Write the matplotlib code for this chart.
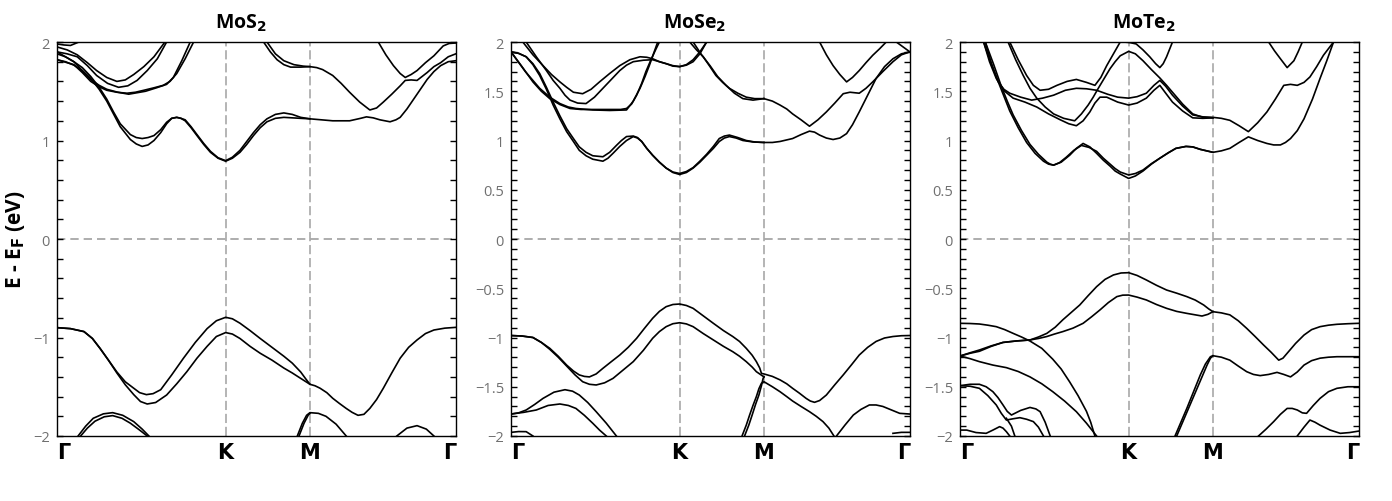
"""MoX2 単層のバンド構造 3 パネル図を作成する。"""

import matplotlib

matplotlib.use("Agg")
import matplotlib.pyplot as plt
from matplotlib.ticker import FuncFormatter, MultipleLocator

plt.rcParams["font.family"] = ["Open Sans", "DejaVu Sans"]
plt.rcParams["mathtext.fontset"] = "dejavusans"

# 高対称点の位置 (Γ-K : K-M : M-Γ = 2 : 1 : √3)
K_TICKS = [0.0, 2.0, 3.0, 4.732]
K_LABELS = ["Γ", "K", "M", "Γ"]

TITLES = ["MoS$_\\mathbf{2}$", "MoSe$_\\mathbf{2}$", "MoTe$_\\mathbf{2}$"]
MAJOR_STEPS = [1.0, 0.5, 0.5]
MINOR_STEPS = [0.2, 0.1, 0.1]

# 各バンドは (k, E - E_F [eV]) の列
MOS2_BANDS = [
    [(0, 1.82), (0.10, 1.80), (0.20, 1.765), (0.30, 1.71), (0.40, 1.63), (0.50, 1.52),
     (0.59, 1.40), (0.67, 1.27), (0.75, 1.14), (0.87, 1.01), (0.94, 0.965),
     (1.01, 0.94), (1.08, 0.955), (1.15, 1.00), (1.23, 1.08), (1.30, 1.17), (1.36, 1.225),
     (1.42, 1.235), (1.47, 1.225), (1.52, 1.20), (1.59, 1.13), (1.66, 1.05), (1.74, 0.96),
     (1.82, 0.88), (1.91, 0.82), (2.0, 0.79), (2.08, 0.82), (2.17, 0.88), (2.25, 0.96),
     (2.33, 1.05), (2.41, 1.13), (2.49, 1.19), (2.59, 1.225), (2.69, 1.235), (2.89, 1.225),
     (3.0, 1.22), (3.27, 1.20), (3.47, 1.20), (3.60, 1.225), (3.67, 1.24), (3.75, 1.23),
     (3.83, 1.21), (3.95, 1.19), (4.02, 1.21), (4.07, 1.235), (4.15, 1.32), (4.23, 1.42),
     (4.31, 1.52), (4.39, 1.62), (4.47, 1.70), (4.55, 1.76), (4.64, 1.80), (4.73, 1.81)],
    [(0, 1.88), (0.10, 1.85), (0.20, 1.80), (0.30, 1.74), (0.40, 1.65), (0.50, 1.54),
     (0.59, 1.42), (0.67, 1.29), (0.75, 1.17), (0.87, 1.06), (0.94, 1.03), (1.01, 1.02),
     (1.08, 1.03), (1.15, 1.05), (1.23, 1.11), (1.30, 1.185), (1.36, 1.225), (1.42, 1.235),
     (1.47, 1.225), (1.52, 1.21), (1.59, 1.14), (1.66, 1.06), (1.74, 0.97), (1.82, 0.89),
     (1.91, 0.825), (2.0, 0.795), (2.08, 0.83), (2.17, 0.90), (2.25, 0.99), (2.33, 1.08),
     (2.41, 1.16), (2.49, 1.22), (2.59, 1.265), (2.69, 1.28), (2.79, 1.265), (2.89, 1.235),
     (3.0, 1.22)],
    [(0, 1.82), (0.20, 1.77), (0.30, 1.69), (0.40, 1.60), (0.50, 1.545), (0.59, 1.51),
     (0.71, 1.49), (0.83, 1.48), (0.93, 1.49), (1.03, 1.51), (1.15, 1.535), (1.26, 1.56),
     (1.34, 1.60), (1.42, 1.68), (1.52, 1.83), (1.62, 2.0)],
    [(0, 1.90), (0.20, 1.80), (0.30, 1.71), (0.40, 1.62), (0.50, 1.56), (0.59, 1.52),
     (0.72, 1.49), (0.85, 1.47), (0.95, 1.485), (1.05, 1.50), (1.18, 1.535), (1.30, 1.57),
     (1.38, 1.64), (1.48, 1.81), (1.58, 2.0)],
    [(0, 1.95), (0.12, 1.92), (0.24, 1.87), (0.36, 1.79), (0.47, 1.71), (0.59, 1.64),
     (0.71, 1.60), (0.81, 1.615), (0.91, 1.67), (1.03, 1.75), (1.15, 1.85), (1.28, 2.0)],
    [(0, 1.90), (0.12, 1.88), (0.24, 1.85), (0.36, 1.76), (0.47, 1.66), (0.60, 1.58),
     (0.73, 1.54), (0.84, 1.555), (0.95, 1.61), (1.07, 1.71), (1.19, 1.83), (1.30, 2.0)],
    [(0, 1.98), (0.08, 1.97), (0.16, 1.965), (0.26, 2.0)],
    [(2.45, 2.0), (2.53, 1.90), (2.61, 1.82), (2.69, 1.77), (2.77, 1.745), (2.89, 1.745),
     (3.0, 1.75), (3.08, 1.74), (3.15, 1.72), (3.27, 1.66), (3.37, 1.58), (3.47, 1.49),
     (3.59, 1.39), (3.71, 1.31), (3.79, 1.33), (3.87, 1.39), (3.97, 1.47), (4.07, 1.555),
     (4.13, 1.61), (4.20, 1.615), (4.27, 1.61), (4.39, 1.69), (4.47, 1.75), (4.55, 1.79),
     (4.64, 1.85), (4.73, 1.88)],
    [(2.49, 2.0), (2.59, 1.88), (2.69, 1.81), (2.81, 1.77), (2.92, 1.755), (3.0, 1.75)],
    [(3.81, 2.0), (3.90, 1.87), (3.99, 1.76), (4.07, 1.68), (4.13, 1.64), (4.20, 1.67),
     (4.27, 1.71), (4.37, 1.79), (4.47, 1.86), (4.58, 1.96), (4.65, 1.985), (4.73, 1.99)],
    [(0, -0.90), (0.16, -0.91), (0.32, -0.94), (0.42, -1.01), (0.51, -1.11), (0.61, -1.23),
     (0.71, -1.35), (0.81, -1.45), (0.91, -1.515), (0.98, -1.56), (1.06, -1.58),
     (1.14, -1.57), (1.23, -1.53), (1.36, -1.38), (1.50, -1.21), (1.64, -1.05),
     (1.78, -0.91), (1.89, -0.83), (2.0, -0.795), (2.08, -0.81), (2.17, -0.855),
     (2.29, -0.93), (2.41, -1.01), (2.55, -1.10), (2.69, -1.19), (2.79, -1.26),
     (2.89, -1.35), (2.95, -1.42), (3.0, -1.475), (3.06, -1.49), (3.12, -1.515),
     (3.20, -1.56), (3.27, -1.617), (3.35, -1.67), (3.43, -1.72), (3.50, -1.76),
     (3.57, -1.79), (3.64, -1.78), (3.71, -1.72), (3.79, -1.63), (3.87, -1.515),
     (3.97, -1.36), (4.07, -1.21), (4.17, -1.10), (4.27, -1.025), (4.37, -0.96),
     (4.47, -0.924), (4.60, -0.905), (4.73, -0.897)],
    [(0, -0.90), (0.16, -0.91), (0.32, -0.94), (0.42, -1.01), (0.51, -1.11), (0.61, -1.23),
     (0.71, -1.36), (0.81, -1.48), (0.91, -1.58), (0.99, -1.65), (1.07, -1.675),
     (1.17, -1.66), (1.30, -1.584), (1.42, -1.47), (1.54, -1.347), (1.66, -1.21),
     (1.78, -1.09), (1.89, -0.99), (2.0, -0.95), (2.08, -0.965), (2.17, -1.01),
     (2.29, -1.09), (2.41, -1.16), (2.55, -1.23), (2.69, -1.31), (2.79, -1.36),
     (2.89, -1.415), (3.0, -1.475)],
    [(0.25, -2.0), (0.34, -1.90), (0.43, -1.82), (0.55, -1.775), (0.66, -1.763),
     (0.78, -1.79), (0.91, -1.854), (1.01, -1.93), (1.09, -2.0)],
    [(0.28, -2.0), (0.36, -1.92), (0.45, -1.85), (0.56, -1.805), (0.66, -1.793),
     (0.77, -1.82), (0.87, -1.87), (0.98, -1.94), (1.07, -2.0)],
    [(2.85, -2.0), (2.91, -1.87), (2.96, -1.79), (3.0, -1.763), (3.10, -1.77),
     (3.19, -1.80), (3.31, -1.88), (3.43, -2.0)],
    [(2.87, -2.0), (2.93, -1.87), (2.98, -1.787), (3.0, -1.77)],
    [(4.03, -2.0), (4.15, -1.92), (4.27, -1.895), (4.38, -1.93), (4.47, -2.0)],
]

MOSE2_BANDS = [
    [(0, 1.90), (0.09, 1.885), (0.18, 1.85), (0.26, 1.77), (0.34, 1.66), (0.42, 1.52),
     (0.50, 1.36), (0.58, 1.22), (0.66, 1.09), (0.74, 0.99), (0.81, 0.90), (0.89, 0.845),
     (0.97, 0.81), (1.09, 0.79), (1.15, 0.82), (1.21, 0.87), (1.29, 0.94), (1.37, 1.0),
     (1.45, 1.04), (1.50, 1.025), (1.55, 0.99), (1.61, 0.92), (1.68, 0.85), (1.76, 0.78),
     (1.84, 0.72), (1.92, 0.675), (2.0, 0.655), (2.08, 0.675), (2.16, 0.72), (2.24, 0.78),
     (2.32, 0.85), (2.40, 0.92), (2.47, 0.99), (2.53, 1.025), (2.59, 1.04), (2.67, 1.025),
     (2.75, 1.0), (2.87, 0.985), (3.0, 0.98), (3.10, 0.98), (3.19, 0.99), (3.34, 1.02),
     (3.44, 1.06), (3.54, 1.095), (3.60, 1.085), (3.66, 1.055), (3.74, 1.025),
     (3.82, 1.01), (3.90, 1.025), (3.98, 1.07), (4.05, 1.16), (4.13, 1.29), (4.23, 1.46),
     (4.33, 1.63), (4.43, 1.75), (4.53, 1.83), (4.63, 1.88), (4.73, 1.90)],
    [(0, 1.90), (0.09, 1.885), (0.18, 1.85), (0.26, 1.78), (0.34, 1.68), (0.42, 1.54),
     (0.50, 1.39), (0.58, 1.25), (0.66, 1.12), (0.74, 1.02), (0.81, 0.935), (0.89, 0.88),
     (0.97, 0.845), (1.09, 0.835), (1.17, 0.88), (1.25, 0.95), (1.31, 1.0), (1.37, 1.04),
     (1.45, 1.045), (1.50, 1.03), (1.55, 0.99), (1.61, 0.92), (1.68, 0.85), (1.76, 0.78),
     (1.84, 0.72), (1.92, 0.68), (2.0, 0.665), (2.08, 0.685), (2.16, 0.725), (2.24, 0.79),
     (2.32, 0.86), (2.40, 0.94), (2.47, 1.02), (2.53, 1.045), (2.59, 1.055), (2.69, 1.03),
     (2.79, 1.0), (2.89, 0.985), (3.0, 0.98)],
    [(3.0, 1.425), (3.10, 1.40), (3.19, 1.36), (3.27, 1.32), (3.34, 1.27), (3.44, 1.21),
     (3.54, 1.145), (3.64, 1.21), (3.74, 1.29), (3.84, 1.38), (3.94, 1.475), (4.02, 1.49),
     (4.13, 1.48), (4.21, 1.53), (4.29, 1.595), (4.41, 1.70), (4.53, 1.80), (4.63, 1.87),
     (4.73, 1.90)],
    [(3.66, 2.0), (3.74, 1.87), (3.82, 1.76), (3.90, 1.67), (3.98, 1.595), (4.05, 1.64),
     (4.13, 1.71), (4.21, 1.79), (4.29, 1.865), (4.37, 1.93), (4.45, 2.0)],
    [(4.57, 2.0), (4.65, 1.95), (4.73, 1.90)],
    [(2.12, 2.0), (2.20, 1.92), (2.28, 1.85), (2.36, 1.75), (2.43, 1.66), (2.51, 1.59),
     (2.59, 1.53), (2.69, 1.48), (2.79, 1.44), (2.89, 1.425), (3.0, 1.425)],
    [(2.16, 2.0), (2.26, 1.87), (2.36, 1.76), (2.45, 1.65), (2.55, 1.56), (2.65, 1.48),
     (2.75, 1.425), (2.87, 1.41), (3.0, 1.425)],
    [(0.14, 2.0), (0.26, 1.87), (0.38, 1.76), (0.48, 1.67), (0.58, 1.595), (0.66, 1.54),
     (0.74, 1.49), (0.85, 1.475), (0.95, 1.52), (1.05, 1.595), (1.17, 1.68), (1.29, 1.76),
     (1.41, 1.82), (1.53, 1.85), (1.61, 1.845), (1.68, 1.83), (1.76, 1.80), (1.84, 1.78),
     (1.92, 1.755), (2.0, 1.75), (2.08, 1.765), (2.16, 1.80), (2.24, 1.88), (2.32, 2.0)],
    [(0.18, 2.0), (0.30, 1.85), (0.42, 1.71), (0.50, 1.61), (0.58, 1.53), (0.64, 1.46),
     (0.70, 1.41), (0.79, 1.38), (0.89, 1.375), (0.99, 1.44), (1.09, 1.53), (1.19, 1.62),
     (1.29, 1.71), (1.37, 1.765), (1.45, 1.80), (1.57, 1.815), (1.68, 1.82), (1.80, 1.79),
     (1.92, 1.76), (2.0, 1.75), (2.08, 1.77), (2.16, 1.82), (2.24, 1.90), (2.32, 2.0)],
    [(0, 1.90), (0.13, 1.75), (0.26, 1.595), (0.36, 1.50), (0.46, 1.425), (0.58, 1.365),
     (0.70, 1.325), (0.83, 1.315), (0.97, 1.315), (1.17, 1.315), (1.30, 1.315),
     (1.37, 1.325), (1.43, 1.37), (1.49, 1.46), (1.55, 1.58), (1.60, 1.70), (1.66, 1.82),
     (1.72, 1.93), (1.76, 2.0)],
    [(0, 1.90), (0.17, 1.70), (0.34, 1.53), (0.46, 1.44), (0.58, 1.375), (0.68, 1.34),
     (0.77, 1.325), (0.97, 1.31), (1.17, 1.305), (1.37, 1.31), (1.45, 1.40), (1.53, 1.53),
     (1.59, 1.65), (1.64, 1.76), (1.69, 1.88), (1.74, 2.0)],
    [(0, -0.98), (0.13, -0.985), (0.26, -1.0), (0.36, -1.05), (0.46, -1.11), (0.56, -1.19),
     (0.66, -1.28), (0.74, -1.34), (0.81, -1.38), (0.87, -1.395), (0.93, -1.40),
     (1.01, -1.37), (1.09, -1.313), (1.19, -1.245), (1.29, -1.178), (1.39, -1.10),
     (1.49, -1.008), (1.58, -0.91), (1.68, -0.805), (1.76, -0.735), (1.84, -0.687),
     (1.92, -0.665), (2.0, -0.66), (2.08, -0.675), (2.16, -0.704), (2.28, -0.78),
     (2.40, -0.856), (2.52, -0.93), (2.63, -0.99), (2.71, -1.04), (2.79, -1.11),
     (2.86, -1.18), (2.91, -1.245), (2.95, -1.31), (2.97, -1.364), (3.0, -1.37),
     (3.10, -1.395), (3.19, -1.43), (3.27, -1.47), (3.34, -1.516), (3.42, -1.565),
     (3.50, -1.618), (3.55, -1.645), (3.60, -1.658), (3.66, -1.64), (3.74, -1.584),
     (3.84, -1.48), (3.94, -1.38), (4.04, -1.275), (4.13, -1.178), (4.23, -1.10),
     (4.33, -1.04), (4.43, -1.005), (4.53, -0.99), (4.63, -0.982), (4.73, -0.98)],
    [(0, -0.98), (0.13, -0.985), (0.26, -1.0), (0.36, -1.05), (0.46, -1.12), (0.56, -1.20),
     (0.66, -1.29), (0.76, -1.38), (0.85, -1.449), (0.93, -1.475), (1.01, -1.482),
     (1.11, -1.46), (1.21, -1.415), (1.33, -1.33), (1.45, -1.245), (1.57, -1.13),
     (1.68, -1.008), (1.76, -0.94), (1.84, -0.89), (1.92, -0.86), (2.0, -0.85),
     (2.08, -0.862), (2.16, -0.89), (2.28, -0.96), (2.40, -1.025), (2.52, -1.09),
     (2.63, -1.144), (2.71, -1.19), (2.79, -1.245), (2.86, -1.30), (2.91, -1.347),
     (3.0, -1.40)],
    [(2.74, -2.0), (2.79, -1.89), (2.83, -1.787), (2.87, -1.69), (2.91, -1.60),
     (2.94, -1.52), (2.97, -1.465), (3.0, -1.449), (3.10, -1.50), (3.19, -1.55),
     (3.27, -1.60), (3.34, -1.645), (3.44, -1.70), (3.54, -1.753), (3.62, -1.80),
     (3.70, -1.854), (3.77, -1.92), (3.83, -2.0)],
    [(2.77, -2.0), (2.82, -1.89), (2.86, -1.787), (2.90, -1.68), (2.94, -1.584),
     (2.97, -1.49), (2.99, -1.415), (3.0, -1.40)],
    [(0, -1.777), (0.09, -1.765), (0.18, -1.736), (0.28, -1.68), (0.38, -1.618),
     (0.51, -1.555), (0.64, -1.53), (0.73, -1.545), (0.81, -1.584), (0.91, -1.66),
     (1.01, -1.753), (1.13, -1.87), (1.25, -2.0)],
    [(0, -1.777), (0.15, -1.76), (0.30, -1.736), (0.44, -1.69), (0.58, -1.675),
     (0.68, -1.69), (0.77, -1.72), (0.87, -1.79), (0.97, -1.871), (1.05, -1.94),
     (1.13, -2.0)],
    [(0, -1.963), (0.09, -1.955), (0.18, -1.956), (0.26, -2.0)],
    [(3.86, -2.0), (3.96, -1.89), (4.06, -1.787), (4.15, -1.73), (4.25, -1.685),
     (4.33, -1.685), (4.41, -1.70), (4.51, -1.735), (4.61, -1.77), (4.73, -1.777)],
    [(4.53, -1.973), (4.63, -1.963), (4.73, -1.963)],
]

MOTE2_BANDS = [
    [(0.28, 2.0), (0.37, 1.78), (0.47, 1.56), (0.53, 1.43), (0.59, 1.30), (0.69, 1.13),
     (0.79, 0.98), (0.89, 0.87), (0.99, 0.79), (1.05, 0.76), (1.11, 0.75), (1.20, 0.78),
     (1.30, 0.85), (1.38, 0.92), (1.46, 0.97), (1.54, 0.935), (1.62, 0.87), (1.70, 0.80),
     (1.78, 0.74), (1.84, 0.69), (1.90, 0.66), (2.0, 0.615), (2.08, 0.64), (2.17, 0.69),
     (2.27, 0.76), (2.37, 0.82), (2.47, 0.875), (2.56, 0.92), (2.68, 0.94), (2.76, 0.935),
     (2.85, 0.91), (3.0, 0.88), (3.10, 0.895), (3.20, 0.92), (3.31, 0.98), (3.42, 1.037),
     (3.53, 1.0), (3.64, 0.97), (3.72, 0.955), (3.80, 0.955), (3.86, 0.98), (3.92, 1.02),
     (4.00, 1.10), (4.08, 1.22), (4.18, 1.42), (4.27, 1.63), (4.35, 1.81), (4.43, 2.0)],
    [(0.30, 2.0), (0.40, 1.77), (0.49, 1.55), (0.56, 1.40), (0.63, 1.26), (0.73, 1.10),
     (0.83, 0.96), (0.93, 0.86), (1.03, 0.78), (1.07, 0.76), (1.11, 0.75), (1.18, 0.775),
     (1.26, 0.83), (1.35, 0.90), (1.44, 0.95), (1.53, 0.93), (1.62, 0.89), (1.70, 0.82),
     (1.78, 0.76), (1.84, 0.715), (1.90, 0.68), (2.0, 0.65), (2.08, 0.665), (2.17, 0.70),
     (2.27, 0.765), (2.37, 0.82), (2.47, 0.875), (2.56, 0.92), (2.68, 0.94), (2.76, 0.935),
     (2.85, 0.91), (3.0, 0.88)],
    [(0.59, 2.0), (0.69, 1.82), (0.79, 1.66), (0.87, 1.56), (0.95, 1.51), (1.05, 1.52),
     (1.15, 1.56), (1.27, 1.60), (1.38, 1.62), (1.50, 1.59), (1.60, 1.56), (1.67, 1.64),
     (1.74, 1.76), (1.82, 1.88), (1.90, 2.0)],
    [(1.94, 2.0), (2.01, 1.995), (2.09, 1.98), (2.17, 1.92), (2.25, 1.85), (2.32, 1.78),
     (2.37, 1.74), (2.41, 1.78), (2.45, 1.85), (2.52, 2.0)],
    [(0.30, 2.0), (0.37, 1.79), (0.45, 1.60), (0.52, 1.52), (0.59, 1.48), (0.72, 1.44),
     (0.85, 1.41), (0.98, 1.43), (1.11, 1.46), (1.25, 1.51), (1.38, 1.53), (1.50, 1.525),
     (1.62, 1.51), (1.75, 1.47), (1.87, 1.44), (2.0, 1.43), (2.10, 1.445), (2.21, 1.48),
     (2.30, 1.56), (2.37, 1.61), (2.44, 1.55), (2.52, 1.46), (2.64, 1.35), (2.76, 1.26),
     (2.88, 1.24), (3.0, 1.235), (3.10, 1.225), (3.20, 1.205), (3.31, 1.15), (3.42, 1.09),
     (3.53, 1.18), (3.64, 1.29), (3.74, 1.42), (3.84, 1.56), (3.92, 1.57), (4.0, 1.56),
     (4.08, 1.59), (4.15, 1.645), (4.23, 1.75), (4.31, 1.865), (4.43, 2.0)],
    [(0.28, 2.0), (0.35, 1.80), (0.43, 1.63), (0.53, 1.50), (0.63, 1.43), (0.77, 1.39),
     (0.91, 1.34), (1.05, 1.27), (1.19, 1.21), (1.29, 1.17), (1.38, 1.15), (1.46, 1.20),
     (1.54, 1.29), (1.60, 1.38), (1.66, 1.44), (1.74, 1.44), (1.87, 1.39), (2.0, 1.36),
     (2.10, 1.38), (2.21, 1.43), (2.30, 1.51), (2.37, 1.56), (2.44, 1.48), (2.52, 1.39),
     (2.64, 1.30), (2.76, 1.23), (2.88, 1.225), (3.0, 1.23)],
    [(0.57, 2.0), (0.66, 1.82), (0.75, 1.66), (0.83, 1.53), (0.91, 1.43), (1.01, 1.34),
     (1.11, 1.27), (1.23, 1.225), (1.36, 1.20), (1.44, 1.27), (1.52, 1.36), (1.58, 1.44),
     (1.64, 1.53), (1.71, 1.63), (1.78, 1.73), (1.84, 1.80), (1.90, 1.86), (2.0, 1.905),
     (2.08, 1.88), (2.17, 1.81), (2.27, 1.72), (2.37, 1.635), (2.45, 1.56), (2.52, 1.49),
     (2.64, 1.37), (2.76, 1.27), (2.88, 1.235), (3.0, 1.23)],
    [(3.66, 2.0), (3.73, 1.91), (3.80, 1.83), (3.88, 1.74), (3.96, 1.81), (4.01, 1.90),
     (4.06, 2.0)],
    [(0, -0.856), (0.12, -0.858), (0.23, -0.863), (0.33, -0.875), (0.43, -0.89),
     (0.53, -0.92), (0.63, -0.958), (0.73, -0.995), (0.83, -1.036), (0.97, -1.11),
     (1.10, -1.22), (1.20, -1.32), (1.30, -1.45), (1.40, -1.59), (1.50, -1.75),
     (1.55, -1.86), (1.60, -2.0)],
    [(0, -1.188), (0.12, -1.16), (0.23, -1.14), (0.37, -1.09), (0.51, -1.05),
     (0.67, -1.035), (0.83, -1.025), (0.93, -0.995), (1.03, -0.958), (1.13, -0.895),
     (1.22, -0.82), (1.32, -0.745), (1.42, -0.67), (1.52, -0.575), (1.62, -0.484),
     (1.72, -0.41), (1.82, -0.365), (1.91, -0.345), (2.0, -0.342), (2.10, -0.37),
     (2.21, -0.416), (2.33, -0.47), (2.45, -0.518), (2.57, -0.55), (2.69, -0.585),
     (2.79, -0.62), (2.89, -0.67), (2.95, -0.71), (3.0, -0.738), (3.10, -0.75),
     (3.20, -0.77), (3.30, -0.83), (3.40, -0.907), (3.50, -0.99), (3.60, -1.076),
     (3.69, -1.15), (3.78, -1.23), (3.83, -1.21), (3.88, -1.16), (3.98, -1.06),
     (4.08, -0.975), (4.17, -0.92), (4.27, -0.89), (4.37, -0.875), (4.47, -0.866),
     (4.60, -0.86), (4.73, -0.856)],
    [(0, -1.188), (0.12, -1.155), (0.23, -1.127), (0.37, -1.085), (0.51, -1.05),
     (0.67, -1.035), (0.83, -1.025), (0.93, -1.01), (1.03, -0.99), (1.12, -0.965),
     (1.22, -0.94), (1.34, -0.905), (1.46, -0.856), (1.56, -0.79), (1.66, -0.72),
     (1.76, -0.645), (1.86, -0.585), (1.93, -0.57), (2.0, -0.569), (2.10, -0.59),
     (2.21, -0.619), (2.33, -0.665), (2.45, -0.704), (2.57, -0.735), (2.69, -0.755),
     (2.79, -0.77), (2.87, -0.782), (2.94, -0.765), (3.0, -0.738)],
    [(0, -1.188), (0.12, -1.215), (0.23, -1.245), (0.39, -1.28), (0.55, -1.306),
     (0.69, -1.345), (0.83, -1.40), (0.97, -1.47), (1.10, -1.55), (1.24, -1.645),
     (1.38, -1.753), (1.50, -1.87), (1.62, -2.0)],
    [(2.55, -2.0), (2.62, -1.86), (2.69, -1.72), (2.77, -1.55), (2.85, -1.38),
     (2.91, -1.27), (2.97, -1.195), (3.0, -1.185), (3.10, -1.20), (3.20, -1.23),
     (3.30, -1.29), (3.40, -1.347), (3.48, -1.375), (3.56, -1.387), (3.66, -1.375),
     (3.76, -1.354), (3.84, -1.375), (3.92, -1.40), (4.00, -1.35), (4.08, -1.28),
     (4.17, -1.235), (4.27, -1.21), (4.37, -1.20), (4.47, -1.195), (4.60, -1.195),
     (4.73, -1.195)],
    [(2.57, -2.0), (2.64, -1.86), (2.71, -1.72), (2.79, -1.56), (2.87, -1.40),
     (2.93, -1.28), (2.97, -1.21), (3.0, -1.185)],
    [(3.54, -2.0), (3.63, -1.93), (3.72, -1.854), (3.80, -1.78), (3.88, -1.72),
     (3.94, -1.72), (4.0, -1.736), (4.06, -1.765), (4.11, -1.77), (4.19, -1.69),
     (4.27, -1.618), (4.37, -1.55), (4.47, -1.516), (4.60, -1.50), (4.73, -1.50)],
    [(4.0, -2.0), (4.08, -1.91), (4.15, -1.838), (4.21, -1.86), (4.27, -1.89),
     (4.39, -1.94), (4.51, -1.973), (4.62, -1.965), (4.73, -1.95)],
    [(0, -1.489), (0.12, -1.475), (0.23, -1.475), (0.31, -1.50), (0.39, -1.55),
     (0.45, -1.61), (0.51, -1.685), (0.56, -1.75), (0.61, -1.787), (0.72, -1.74),
     (0.83, -1.71), (0.90, -1.725), (0.95, -1.753), (1.01, -1.86), (1.07, -2.0)],
    [(0, -1.489), (0.12, -1.495), (0.23, -1.516), (0.33, -1.59), (0.43, -1.685),
     (0.49, -1.77), (0.55, -1.838), (0.63, -1.825), (0.71, -1.814), (0.79, -1.83),
     (0.87, -1.854), (0.93, -1.91), (0.99, -2.0)],
    [(0, -1.94), (0.08, -1.94), (0.19, -1.965), (0.31, -1.973), (0.39, -1.94),
     (0.47, -1.905), (0.51, -1.92), (0.55, -1.956), (0.59, -2.0)],
    [(0.55, -1.82), (0.58, -1.86), (0.61, -1.90), (0.65, -2.0)],
]

ALL_BANDS = [MOS2_BANDS, MOSE2_BANDS, MOTE2_BANDS]

FIG_W, FIG_H = 1392, 502
AXES_LEFT_PX = [57, 511, 960]
AXES_WIDTH_PX = 399
AXES_TOP_PX, AXES_BOTTOM_PX = 43, 437


def tick_text(value, _pos):
    """目盛ラベルを %g 表記 + Unicode マイナスで返す。"""
    text = f"{value:g}"
    return text.replace("-", "\u2212")


def draw_panel(ax, bands, title, major, minor, show_ylabel):
    """1 物質分のバンド構造を描く。"""
    for band in bands:
        ks = [p[0] for p in band]
        es = [p[1] for p in band]
        ax.plot(ks, es, color="black", lw=1.2, solid_joinstyle="round")

    for k in K_TICKS[1:-1]:
        ax.axvline(k, color="#a0a0a0", lw=1.1, ls=(0, (6, 2.5)), zorder=0)
    ax.axhline(0.0, color="#a0a0a0", lw=1.2, ls=(0, (5, 3)), zorder=0)

    ax.set_xlim(K_TICKS[0], K_TICKS[-1])
    ax.set_ylim(-2, 2)
    ax.set_xticks(K_TICKS)
    ax.set_xticklabels(K_LABELS, fontsize=15, fontweight="bold", family="DejaVu Sans")
    labels = ax.get_xticklabels()
    labels[0].set_ha("left")
    labels[-1].set_ha("right")
    ax.tick_params(axis="x", length=0, pad=4)

    ax.yaxis.set_major_locator(MultipleLocator(major))
    ax.yaxis.set_minor_locator(MultipleLocator(minor))
    ax.yaxis.set_major_formatter(FuncFormatter(tick_text))
    ax.tick_params(axis="y", which="both", direction="in", left=True, right=True,
                   length=4.5, width=1.0, labelsize=10.5, labelcolor="#707070", pad=5)

    for spine in ax.spines.values():
        spine.set_linewidth(1.0)

    ax.set_title(title, fontsize=14, fontweight="bold", pad=10, x=0.46)
    if show_ylabel:
        ax.set_ylabel("E - E$_\\mathbf{F}$ (eV)", fontsize=15, fontweight="bold")
        ax.yaxis.set_label_coords(-0.075, 0.5)


def main():
    fig = plt.figure(figsize=(FIG_W / 100, FIG_H / 100), dpi=100)
    bottom = (FIG_H - AXES_BOTTOM_PX) / FIG_H
    height = (AXES_BOTTOM_PX - AXES_TOP_PX) / FIG_H
    for i, bands in enumerate(ALL_BANDS):
        ax = fig.add_axes([AXES_LEFT_PX[i] / FIG_W, bottom, AXES_WIDTH_PX / FIG_W, height])
        draw_panel(ax, bands, TITLES[i], MAJOR_STEPS[i], MINOR_STEPS[i], i == 0)
    fig.savefig("out.png", dpi=100)
    plt.close(fig)


if __name__ == "__main__":
    main()
